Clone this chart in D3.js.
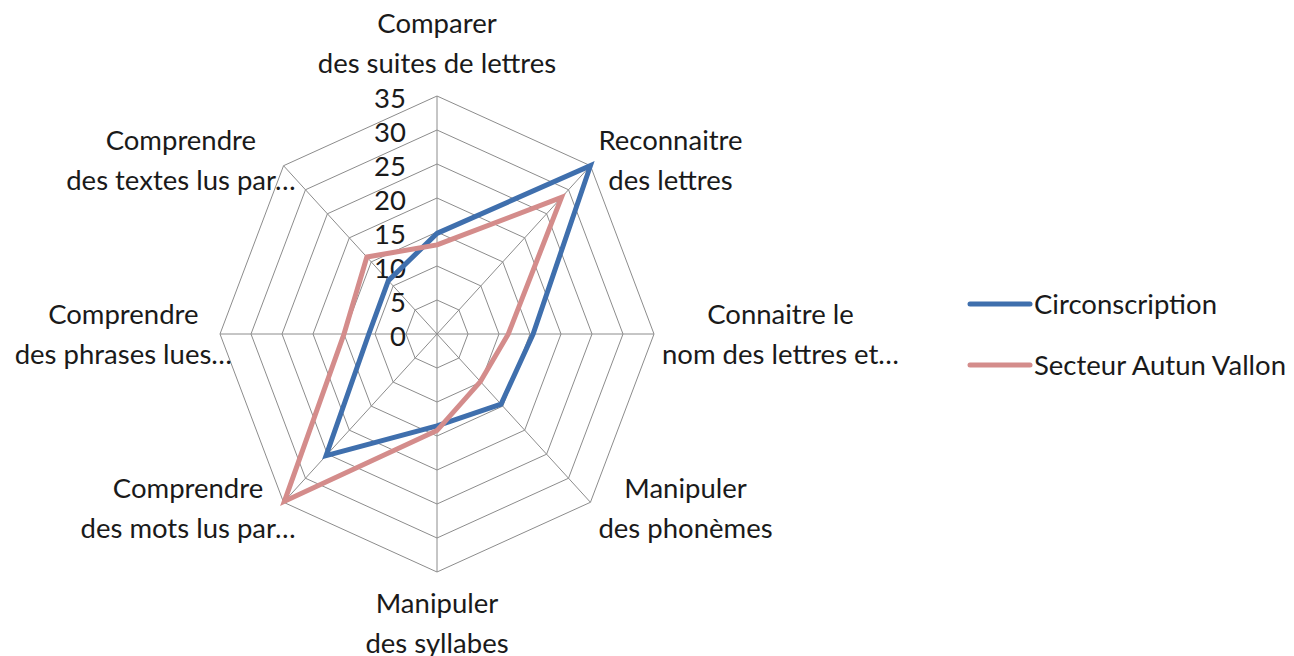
<!DOCTYPE html>
<html lang="fr">
<head>
<meta charset="utf-8">
<title>Radar</title>
<script src="https://cdn.jsdelivr.net/npm/d3@7"></script>
<style>
  body { margin: 0; background: #fff; }
  svg text { font-family: Lato, "Open Sans", sans-serif; fill: #1a1a1a; }
</style>
</head>
<body>
<svg id="chart" width="1294" height="656"></svg>
<script>
// axes, clockwise from the top
var axes = [
  ["Comparer", "des suites de lettres"],
  ["Reconnaitre", "des lettres"],
  ["Connaitre le", "nom des lettres et…"],
  ["Manipuler", "des phonèmes"],
  ["Manipuler", "des syllabes"],
  ["Comprendre", "des mots lus par…"],
  ["Comprendre", "des phrases lues…"],
  ["Comprendre", "des textes lus par…"]
];
var circonscription = [14.8, 35, 15.5, 14.6, 13.5, 25.3, 11, 11.1];
var secteur = [13.1, 28.4, 11.5, 9.9, 14.2, 34.8, 15, 16];
var seriesNames = ["Circonscription", "Secteur Autun Vallon"];
var seriesColors = ["#3f6fad", "#d48c8b"];
var ticks = [0, 5, 10, 15, 20, 25, 30, 35];

var svg = d3.select("#chart");
var cx = 437, cy = 334, fs = 27.5, lineH = 40;

// the plot is a bit squeezed horizontally
var rX = d3.scaleLinear().domain([0, 35]).range([0, 217]);
var rY = d3.scaleLinear().domain([0, 35]).range([0, 238]);
var angle = d3.scaleLinear().domain([0, axes.length]).range([0, 2 * Math.PI]);

function pt(i, v) {
  var a = angle(i);
  return [cx + rX(v) * Math.sin(a), cy - rY(v) * Math.cos(a)];
}

var g = svg.append("g");

// grid rings
ticks.slice(1).forEach(function(t) {
  g.append("polygon")
    .attr("points", axes.map(function(d, i) { return pt(i, t).join(","); }).join(" "))
    .attr("fill", "none")
    .attr("stroke", "#8c8c8c")
    .attr("stroke-width", 1);
});

// spokes
axes.forEach(function(d, i) {
  var p = pt(i, 35);
  g.append("line")
    .attr("x1", cx).attr("y1", cy)
    .attr("x2", p[0]).attr("y2", p[1])
    .attr("stroke", "#8c8c8c")
    .attr("stroke-width", 1);
});

// tick labels
g.selectAll(".tick").data(ticks).enter().append("text")
  .attr("class", "tick")
  .attr("x", cx - 31)
  .attr("y", function(d) { return cy - rY(d) + 12; })
  .attr("text-anchor", "end")
  .style("font-size", fs + "px")
  .text(function(d) { return d; });

// series
var line = d3.line().curve(d3.curveLinearClosed);
[circonscription, secteur].forEach(function(vals, k) {
  g.append("path")
    .attr("d", line(vals.map(function(v, i) { return pt(i, v); })))
    .attr("fill", "none")
    .attr("stroke", seriesColors[k])
    .attr("stroke-width", 5)
    .attr("stroke-linejoin", "miter");
});

// axis labels
axes.forEach(function(lines, i) {
  var tip = pt(i, 35);
  var a = angle(i);
  var s = Math.sin(a), c = Math.cos(a);
  var t = g.append("text").attr("text-anchor", "middle").style("font-size", fs + "px");
  lines.forEach(function(l, j) {
    t.append("tspan").attr("x", 0).attr("y", j * lineH).text(l);
  });
  var w = t.node().getBBox().width;
  var x, y0;
  if (Math.abs(s) < 0.1) {
    x = tip[0];
    y0 = c > 0 ? tip[1] - 23 - lineH : tip[1] + 41;
  } else {
    x = s > 0 ? tip[0] + 8 + w / 2 : tip[0] + 12 - w / 2;
    y0 = tip[1] - 10 - 8 * c;
  }
  t.attr("transform", "translate(" + x + "," + y0 + ")");
});

// legend
var leg = svg.append("g").attr("transform", "translate(970,304)");
seriesNames.forEach(function(n, k) {
  var row = leg.append("g").attr("transform", "translate(0," + (k * 61) + ")");
  row.append("line")
    .attr("x1", 0).attr("x2", 60)
    .attr("stroke", seriesColors[k])
    .attr("stroke-width", 5)
    .attr("stroke-linecap", "round");
  row.append("text")
    .attr("x", 64).attr("y", 10)
    .style("font-size", fs + "px")
    .text(n);
});
</script>
</body>
</html>
